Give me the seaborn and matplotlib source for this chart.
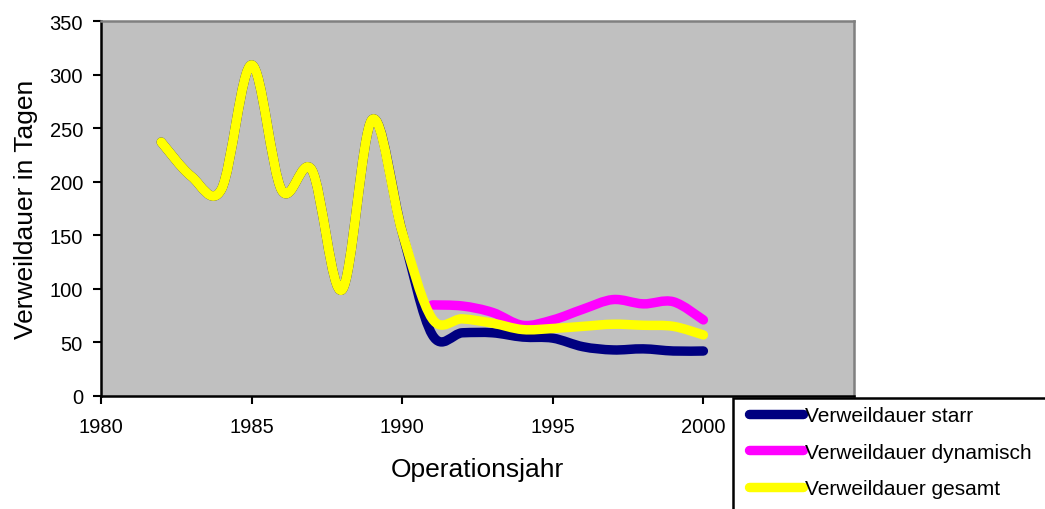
import numpy as np
import matplotlib
matplotlib.use("Agg")
import matplotlib.pyplot as plt
from matplotlib.path import Path
from matplotlib.patches import PathPatch, Rectangle
from matplotlib.lines import Line2D
import seaborn as sns

# values
years = list(range(1982, 2001))
starr = [237, 205, 193, 309, 192, 211, 99, 258, 153, 57, 59, 59, 55, 54, 46, 43, 44, 42, 42]
gesamt = [237, 205, 193, 309, 192, 211, 99, 258, 153, 72, 72, 68, 62, 63, 65, 67, 66, 65, 57]
dyn_years = list(range(1991, 2001))
dynamisch = [85, 84, 78, 66, 71, 81, 90, 86, 88, 71]

labels = ["Verweildauer starr", "Verweildauer dynamisch", "Verweildauer gesamt"]
colors = ["#000080", "#FF00FF", "#FFFF00"]

sns.set_theme(style="ticks")
plt.rcParams['font.family'] = ['Liberation Sans', 'DejaVu Sans']
plt.rcParams['text.color'] = 'black'
plt.rcParams['axes.labelcolor'] = 'black'
plt.rcParams['xtick.color'] = 'black'
plt.rcParams['ytick.color'] = 'black'


def smooth_path(x, y):
    # Excel-like smoothed line: cubic Bezier through the data points
    pts = np.column_stack([x, y]).astype(float)
    n = len(pts)
    verts = [pts[0]]
    codes = [Path.MOVETO]
    for i in range(n - 1):
        p0 = pts[max(i - 1, 0)]
        p1 = pts[i]
        p2 = pts[i + 1]
        p3 = pts[min(i + 2, n - 1)]
        verts += [p1 + (p2 - p0) / 6, p2 - (p3 - p1) / 6, p2]
        codes += [Path.CURVE4] * 3
    return Path(verts, codes)


fig = plt.figure(figsize=(10.45, 5.1), dpi=100)
ax = fig.add_axes([101 / 1045, 113 / 510, 753 / 1045, 375 / 510])
ax.set_facecolor("#C0C0C0")

lw = 6.8
series = [(years, starr), (dyn_years, dynamisch), (years, gesamt)]
for (xs, ys), c in zip(series, colors):
    ax.add_patch(PathPatch(smooth_path(xs, ys), facecolor="none", edgecolor=c,
                           lw=lw, capstyle="round", joinstyle="round", zorder=3))

ax.set_xlim(1980, 2005)
ax.set_ylim(0, 350)
ax.set_xticks(range(1980, 2001, 5))
ax.set_yticks(range(0, 351, 50))
ax.tick_params(axis="both", labelsize=14.5, length=6, width=1.5,
               direction="out")
ax.tick_params(axis="y", pad=7)
ax.tick_params(axis="x", pad=9)

for s in ["left", "bottom"]:
    ax.spines[s].set_color("black")
    ax.spines[s].set_linewidth(1.8)
for s in ["top", "right"]:
    ax.spines[s].set_color("#808080")
    ax.spines[s].set_linewidth(1.8)

ax.set_xlabel("Operationsjahr", fontsize=19, labelpad=15)
ax.set_ylabel("Verweildauer in Tagen", fontsize=19, labelpad=8)

# legend box sticking out of the figure corner
box = Rectangle((733 / 1045, -0.2), 0.5, (510 - 399) / 510 + 0.2,
                transform=fig.transFigure, facecolor="white", edgecolor="black",
                lw=1.8, zorder=4)
fig.add_artist(box)

handles = [Line2D([], [], color=c, lw=lw, solid_capstyle="round") for c in colors]
leg = fig.legend(handles, labels, loc="upper left",
                 bbox_to_anchor=(749 / 1045, 1 - 407 / 510),
                 bbox_transform=fig.transFigure, frameon=False, fontsize=15,
                 handlelength=2.6, handletextpad=0.1, labelspacing=0.85,
                 borderpad=0, borderaxespad=0)
leg.set_zorder(6)

fig.savefig("out.png", dpi=100)
